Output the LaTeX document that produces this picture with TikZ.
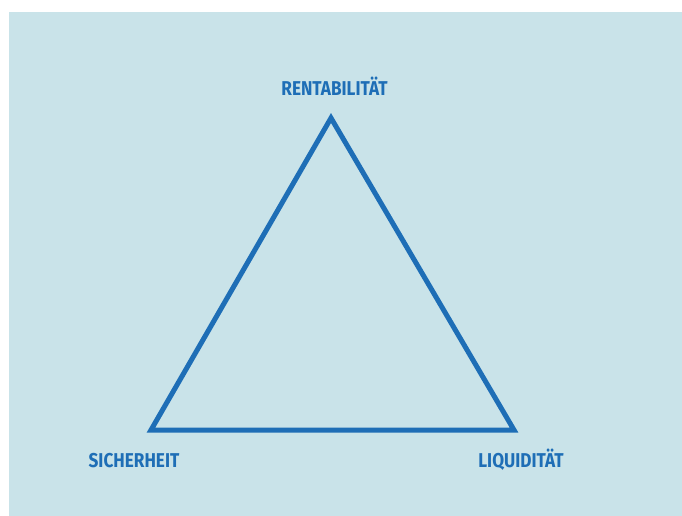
\documentclass[tikz,border=0pt]{standalone}
\usepackage{fontspec}
\setmainfont{Fira Sans}
\usepackage{tikz}
\usetikzlibrary{calc}

\definecolor{hgblau}{RGB}{201,227,233}
\definecolor{dreieckblau}{RGB}{30,110,182}
\tikzset{
  ecke/.style={anchor=base, text=dreieckblau, inner sep=0pt,
    font=\fontsize{20}{20}\selectfont\bfseries},
}
\newcommand{\schmal}[1]{\scalebox{0.86}[1]{#1}}

\begin{document}
\begin{tikzpicture}[x=1pt, y=-1pt]
    \useasboundingbox (0,0) rectangle (682,516);
    \fill[hgblau] (9,12) rectangle (682,516);
    \coordinate (R) at (331,118);
    \coordinate (S) at (151,430);
    \coordinate (L) at (514,430);
    \draw[line width=5pt, dreieckblau, miter limit=10] (S)--(R)--(L)--cycle;
    \node[ecke] (rentab) at (334.5,96) {\schmal{RENTABILITÄT}};
    \node[ecke] (sicher) at (134,467) {\schmal{SICHERHEIT}};
    \node[ecke] (liquid) at (521,467) {\schmal{LIQUIDITÄT}};
\end{tikzpicture}
\end{document}
